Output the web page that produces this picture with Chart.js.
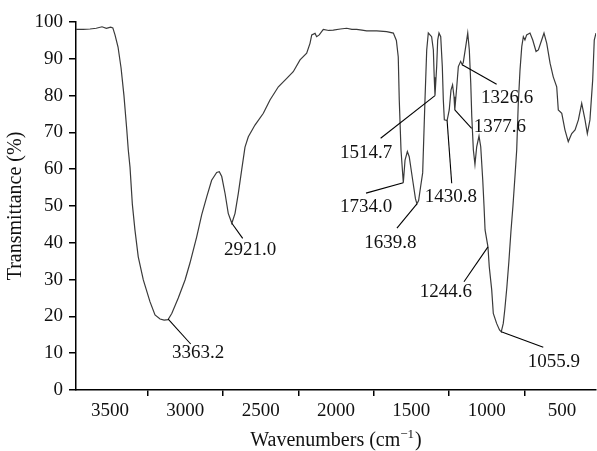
<!DOCTYPE html>
<html>
<head>
<meta charset="utf-8">
<script src="https://cdn.jsdelivr.net/npm/chart.js@4/dist/chart.umd.min.js"></script>
<style>
  html, body { margin: 0; padding: 0; background: #fff; }
  #wrap { width: 597px; height: 451px; }
</style>
</head>
<body>
<div id="wrap"><canvas id="ir" width="597" height="451"></canvas></div>
<script>
// FTIR spectrum: wavenumber (cm^-1) against transmittance (%)
const wavenumbers = [
  4000, 3950, 3903, 3860, 3820, 3790, 3760, 3745, 3730, 3709, 3688, 3668, 3649, 3638, 3626, 3610,
  3592, 3569, 3534, 3488, 3453, 3418, 3390, 3363.2, 3337, 3292, 3245, 3211, 3164, 3130, 3095, 3061,
  3026, 3008, 2991, 2968, 2946, 2921.0, 2899, 2876, 2853, 2830, 2807, 2761, 2703, 2657, 2599, 2541,
  2496, 2449, 2403, 2380, 2368, 2345, 2334, 2316, 2288, 2250, 2219, 2170, 2126, 2090, 2057, 2020,
  1988, 1918, 1849, 1803, 1782, 1769, 1762, 1750, 1734.0, 1722, 1706, 1693, 1669, 1650, 1639.8, 1628,
  1614, 1600, 1584, 1572, 1561, 1538, 1526, 1520, 1514.7, 1503, 1496, 1487, 1475, 1464, 1457, 1450,
  1430.8, 1416, 1404, 1393, 1383, 1377.6, 1364, 1353, 1337, 1326.6, 1319, 1302, 1288, 1277, 1267, 1260,
  1249, 1238, 1226, 1210, 1198, 1184, 1175, 1168, 1148, 1139, 1122, 1111, 1088, 1068, 1055.9, 1042,
  1031, 1017, 1003, 989, 975, 961, 949, 938, 926, 914, 903, 892, 880, 857, 838, 815,
  799, 776, 760, 741, 718, 696, 672, 661, 637, 615, 592, 568, 545, 522, 499, 476,
  460, 442, 423, 412, 400
];
const transmittance = [
  98.0, 98.0, 98.1, 98.3, 98.7, 98.3, 98.6, 98.4, 96.5, 93.2, 87.5, 80.0, 71.0, 65.2, 60.5, 50.5,
  43.5, 36.2, 29.9, 24.0, 20.4, 19.3, 19.0, 19.1, 20.8, 25.0, 29.9, 34.5, 41.7, 47.6, 52.5, 57.0,
  59.1, 59.3, 58.0, 53.4, 48.0, 45.3, 48.0, 53.5, 59.8, 66.0, 68.8, 72.0, 75.2, 78.8, 82.4, 84.7,
  86.5, 89.7, 91.5, 94.2, 96.5, 96.9, 96.0, 96.5, 98.0, 97.7, 97.8, 98.1, 98.3, 98.0, 98.0, 97.8,
  97.6, 97.6, 97.4, 97.0, 95.0, 90.5, 78.8, 65.2, 56.3, 62.5, 64.8, 63.4, 57.0, 52.0, 50.6, 51.5,
  55.3, 59.0, 78.8, 92.4, 97.0, 96.0, 92.4, 85.0, 80.0, 87.9, 95.1, 97.0, 96.0, 87.9, 78.8, 73.4,
  73.2, 76.1, 81.5, 82.9, 79.7, 76.1, 82.4, 87.9, 89.3, 88.4, 89.0, 93.3, 97.0, 92.4, 83.3, 74.3,
  65.2, 61.3, 66.1, 69.0, 66.1, 57.0, 49.8, 43.5, 38.9, 33.5, 27.2, 20.8, 18.1, 16.3, 15.8, 18.1,
  22.0, 28.0, 35.0, 43.0, 50.0, 58.0, 65.2, 77.9, 87.0, 93.3, 96.0, 95.1, 96.5, 97.0, 95.1, 92.0,
  92.4, 95.1, 97.0, 94.2, 88.8, 85.1, 82.4, 76.1, 75.2, 70.7, 67.5, 69.7, 70.7, 73.4, 77.9, 73.4,
  69.7, 73.4, 84.2, 95.1, 97.0
];

// Axis tick labels
const xTickLabels = [3500, 3000, 2500, 2000, 1500, 1000, 500];
const yTickLabels = [0, 10, 20, 30, 40, 50, 60, 70, 80, 90, 100];

// Band assignments: label text, where the leader touches the curve,
// where the leader ends, and where the text sits (data coordinates)
const peakLabels  = ['3363.2', '2921.0', '1734.0', '1639.8', '1514.7', '1430.8', '1377.6', '1326.6', '1244.6', '1055.9'];
const peakTipX    = [3363.2, 2921.0, 1734.0, 1639.8, 1514.7, 1430.8, 1377.6, 1326.6, 1148, 1055.9];
const peakTipY    = [19.3, 45.3, 56.3, 50.6, 80.0, 73.2, 76.1, 88.4, 38.9, 15.8];
const leaderEndX  = [3206, 2846, 1992, 1778, 1891, 1399, 1261, 1088, 1314, 765];
const leaderEndY  = [12.5, 41.2, 53.5, 44.0, 68.4, 56.2, 71.1, 83.1, 29.4, 11.6];
const labelX      = [3155, 2795, 1992, 1823, 1992, 1404, 1065, 1016, 1439, 691];
const labelY      = [10.0, 38.0, 49.7, 39.9, 64.4, 52.4, 71.5, 79.3, 26.6, 7.6];

const SERIF = '"Liberation Serif", "Times New Roman", serif';

const points = wavenumbers.map((w, i) => ({ x: w, y: transmittance[i] }));

const bandLabels = {
  id: 'bandLabels',
  afterDatasetsDraw(chart) {
    const { ctx } = chart;
    const xs = chart.scales.xData, ys = chart.scales.y;
    ctx.save();
    ctx.strokeStyle = '#000';
    ctx.lineWidth = 1.1;
    ctx.fillStyle = '#111';
    ctx.font = '19px ' + SERIF;
    ctx.textAlign = 'center';
    ctx.textBaseline = 'middle';
    peakLabels.forEach((t, i) => {
      ctx.beginPath();
      ctx.moveTo(xs.getPixelForValue(peakTipX[i]), ys.getPixelForValue(peakTipY[i]));
      ctx.lineTo(xs.getPixelForValue(leaderEndX[i]), ys.getPixelForValue(leaderEndY[i]));
      ctx.stroke();
      ctx.fillText(t, xs.getPixelForValue(labelX[i]), ys.getPixelForValue(labelY[i]));
    });
    ctx.restore();
  },
  afterDraw(chart) {
    // x-axis title with a superscript exponent
    const { ctx, chartArea } = chart;
    const cx = (chartArea.left + chartArea.right) / 2;
    const baseY = 446;
    const main = 'Wavenumbers (cm', sup = '\u22121', close = ')';
    ctx.save();
    ctx.fillStyle = '#111';
    ctx.textBaseline = 'alphabetic';
    ctx.textAlign = 'left';
    ctx.font = '20px ' + SERIF;
    const w1 = ctx.measureText(main).width;
    const w3 = ctx.measureText(close).width;
    ctx.font = '13px ' + SERIF;
    const w2 = ctx.measureText(sup).width;
    let x = cx - (w1 + w2 + w3 + 1) / 2;
    ctx.font = '20px ' + SERIF;
    ctx.fillText(main, x, baseY);
    x += w1;
    ctx.font = '13px ' + SERIF;
    ctx.fillText(sup, x, baseY - 8);
    x += w2 + 1;
    ctx.font = '20px ' + SERIF;
    ctx.fillText(close, x, baseY);
    ctx.restore();
  }
};

new Chart(document.getElementById('ir'), {
  type: 'line',
  data: {
    datasets: [{
      data: points,
      xAxisID: 'xData',
      yAxisID: 'y',
      borderColor: '#3a3a3a',
      borderWidth: 1.2,
      pointRadius: 0,
      tension: 0,
      fill: false
    }]
  },
  options: {
    responsive: false,
    animation: false,
    parsing: false,
    layout: { padding: { top: 22, right: 1, left: 0, bottom: 0 } },
    plugins: { legend: { display: false }, tooltip: { enabled: false } },
    scales: {
      xData: {
        type: 'linear',
        position: 'bottom',
        min: 400,
        max: 4000,
        reverse: true,
        display: false
      },
      x: {
        type: 'linear',
        position: 'bottom',
        min: 275,
        max: 3725,
        reverse: true,
        afterBuildTicks(scale) {
          const ticks = [];
          for (let v = xTickLabels[0]; v >= xTickLabels[xTickLabels.length - 1]; v -= 250) ticks.push({ value: v });
          scale.ticks = ticks;
        },
        afterFit(scale) { scale.height = 61; },
        border: { display: true, color: '#000', width: 1.5 },
        grid: {
          drawOnChartArea: false,
          drawTicks: true,
          tickLength: 6,
          lineWidth: 1.5,
          color: (c) => (c.tick && xTickLabels.includes(c.tick.value)) ? 'rgba(0,0,0,0)' : '#000'
        },
        ticks: {
          autoSkip: false,
          maxRotation: 0,
          padding: 4,
          color: '#111',
          font: { family: SERIF, size: 19 },
          callback: (v) => xTickLabels.includes(v) ? String(v) : ''
        }
      },
      y: {
        type: 'linear',
        min: 0,
        max: 100,
        afterBuildTicks(scale) { scale.ticks = yTickLabels.map(v => ({ value: v })); },
        afterFit(scale) { scale.width = 76; },
        border: { display: true, color: '#000', width: 1.5 },
        grid: { drawOnChartArea: false, drawTicks: true, tickLength: 7, lineWidth: 1.5, color: '#000' },
        ticks: {
          padding: 6,
          color: '#111',
          font: { family: SERIF, size: 19 }
        },
        title: {
          display: true,
          text: 'Transmittance (%)',
          color: '#111',
          font: { family: SERIF, size: 20 },
          padding: { top: 4, bottom: 0 }
        }
      }
    }
  },
  plugins: [bandLabels]
});
</script>
</body>
</html>
